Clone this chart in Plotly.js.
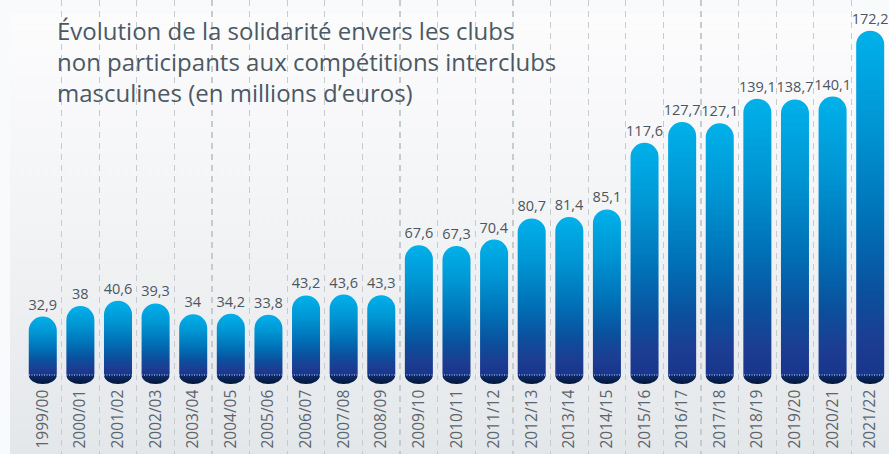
<!DOCTYPE html>
<html>
<head>
<meta charset="utf-8">
<script src="https://cdn.plot.ly/plotly-3.0.1.min.js"></script>
<style>
  html, body { margin: 0; padding: 0; width: 889px; height: 454px; overflow: hidden; background: #f9fafb; }
  #bg { position: absolute; left: 10px; top: 14px; right: 0; bottom: 0;
        background: linear-gradient(to bottom, #fcfcfd 0%, #f3f4f6 45%, #e4e7ea 100%); }
  #chart { position: absolute; left: 0; top: 0; width: 889px; height: 457px; }
</style>
</head>
<body>
<div id="bg"></div>
<div id="chart"></div>
<script>
const seasons = ['1999/00','2000/01','2001/02','2002/03','2003/04','2004/05','2005/06','2006/07',
  '2007/08','2008/09','2009/10','2010/11','2011/12','2012/13','2013/14','2014/15','2015/16',
  '2016/17','2017/18','2018/19','2019/20','2020/21','2021/22'];
const values = [32.9, 38, 40.6, 39.3, 34, 34.2, 33.8, 43.2, 43.6, 43.3, 67.6, 67.3, 70.4,
  80.7, 81.4, 85.1, 117.6, 127.7, 127.1, 139.1, 138.7, 140.1, 172.2];
const titleLines = ['Évolution de la solidarité envers les clubs',
  'non participants aux compétitions interclubs',
  'masculines (en millions d’euros)'];

// Each bar is drawn as a light upper body standing on a dark rounded foot.
// The axis zero sits on the dotted line; the foot reaches CAP below it,
// so the body is drawn with height (value - CAP) to keep the real value at its top.
const CAP = 4.4;        // foot height (value units)
const CAP_DRAW = 6.9;   // drawn foot length before it is squashed to CAP
const labels = values.map(v => String(v).replace('.', ','));

const capTrace = {
  type: 'bar', x: seasons, y: seasons.map(() => -CAP_DRAW),
  marker: { color: '#08245c', cornerradius: '50%', line: { width: 0 } },
  hoverinfo: 'skip', showlegend: false
};
const mainTrace = {
  type: 'bar', x: seasons, y: values.map(v => v - CAP),
  text: labels, textposition: 'outside', constraintext: 'none', cliponaxis: false,
  textfont: { family: 'Open Sans', size: 14.5, color: '#4d565e' },
  marker: { color: '#0077bf', cornerradius: '50%', line: { width: 0 } },
  hoverinfo: 'skip', showlegend: false
};

const layout = {
  width: 889, height: 457,
  margin: { l: 24, r: 0, t: 0, b: 0, pad: 0 },
  paper_bgcolor: 'rgba(0,0,0,0)', plot_bgcolor: 'rgba(0,0,0,0)',
  barmode: 'overlay', bargap: 0.255,
  font: { family: 'Open Sans', color: '#4d565e' },
  annotations: [{
    text: titleLines.join('<br>'), showarrow: false,
    xref: 'paper', x: (55 - 24) / 865, xanchor: 'left', align: 'left',
    yref: 'paper', y: 1 - 12 / 457, yanchor: 'top',
    font: { family: 'Open Sans', size: 24, color: '#4c5964' }
  }],
  xaxis: {
    type: 'category', range: [-0.499, seasons.length - 0.5], fixedrange: true,
    tickson: 'boundaries', ticks: '', showline: false, zeroline: false,
    showgrid: true, gridcolor: '#c6cbd0', gridwidth: 1.2, griddash: '6px,5px',
    tickangle: -90, ticklabelposition: 'inside',
    tickfont: { family: 'Open Sans', size: 15.5, color: '#5b656e' }
  },
  yaxis: {
    range: [-39.97, 182.8], fixedrange: true,
    showgrid: false, zeroline: false, showticklabels: false, ticks: '', showline: false
  },
  shapes: [{
    type: 'line', xref: 'paper', x0: 0, x1: 1, yref: 'y', y0: 0, y1: 0,
    line: { color: 'rgba(255,255,255,0.85)', width: 1, dash: '1px,1.5px' }, layer: 'above'
  }]
};

const gd = document.getElementById('chart');

function addGradient(defs, id, stops) {
  const ns = 'http://www.w3.org/2000/svg';
  const g = document.createElementNS(ns, 'linearGradient');
  g.setAttribute('id', id);
  g.setAttribute('x1', '0'); g.setAttribute('y1', '0');
  g.setAttribute('x2', '0'); g.setAttribute('y2', '1');
  stops.forEach(([o, c]) => {
    const s = document.createElementNS(ns, 'stop');
    s.setAttribute('offset', o); s.setAttribute('stop-color', c);
    g.appendChild(s);
  });
  defs.appendChild(g);
}

function applyGradients() {
  const svg = gd.querySelector('svg.main-svg');
  if (!svg) return;
  let defs = svg.querySelector('defs');
  if (!defs) { defs = document.createElementNS('http://www.w3.org/2000/svg', 'defs'); svg.insertBefore(defs, svg.firstChild); }
  if (!svg.querySelector('#barMainGrad')) {
    addGradient(defs, 'barMainGrad', [['0', '#00b1ea'], ['0.28', '#0095d3'], ['0.55', '#0071b7'],
      ['0.76', '#0b509d'], ['0.9', '#1c3d92'], ['1', '#18368b']]);
    addGradient(defs, 'barCapGrad', [['0', '#0d2d6c'], ['1', '#021536']]);
  }
  const traces = gd.querySelectorAll('.barlayer .trace');
  if (traces.length < 2) return;
  const squash = CAP / CAP_DRAW;
  traces[0].querySelectorAll('path').forEach(p => {
    p.style.fill = 'url(#barCapGrad)';
    p.style.transformBox = 'fill-box';
    p.style.transformOrigin = '50% 0%';
    p.style.transform = 'scaleY(' + squash + ')';
  });
  traces[1].querySelectorAll('path').forEach(p => { p.style.fill = 'url(#barMainGrad)'; });
}

Plotly.newPlot(gd, [capTrace, mainTrace], layout, { displayModeBar: false, staticPlot: true })
  .then(applyGradients);
applyGradients();
</script>
</body>
</html>
